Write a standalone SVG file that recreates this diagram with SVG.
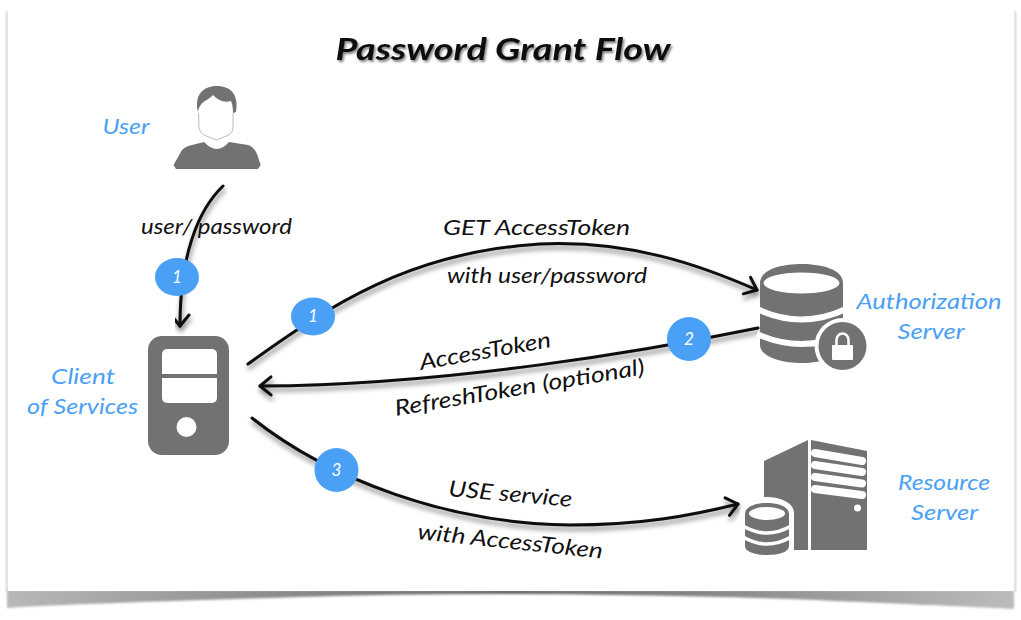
<svg xmlns="http://www.w3.org/2000/svg" width="1021" height="620" viewBox="0 0 1021 620">
<style>
text{font-family:"Lato","Open Sans",sans-serif;font-style:italic}
.lbl{fill:#111;font-size:22px}
.blue{fill:#4aa0f5;font-size:22px;text-anchor:middle}
.num{fill:#fff;font-size:17px;text-anchor:middle}
.ico{fill:#727272}
.gap{fill:none;stroke:#fff}
.conn{fill:none;stroke:#0a0a0a;stroke-width:3;stroke-linecap:round;filter:url(#ls)}
.badge{fill:#4aa0f5}
</style>
<defs>
<linearGradient id="sh" x1="0" y1="0" x2="1" y2="0">
<stop offset="0" stop-color="#b8b8b8"/><stop offset="0.5" stop-color="#666"/><stop offset="1" stop-color="#bcbcbc"/>
</linearGradient>
<filter id="ls" x="-10%" y="-30%" width="120%" height="160%"><feDropShadow dx="1" dy="4" stdDeviation="2.5" flood-color="#000" flood-opacity="0.5"/></filter>
<filter id="ts" x="-5%" y="-30%" width="110%" height="160%"><feDropShadow dx="1.5" dy="2" stdDeviation="1.2" flood-color="#000" flood-opacity="0.5"/></filter>
<filter id="bl" x="-5%" y="-50%" width="110%" height="200%"><feGaussianBlur stdDeviation="1"/></filter>
<filter id="sd" x="-200%" y="-2%" width="500%" height="104%"><feGaussianBlur stdDeviation="0.8"/></filter>
<marker id="ah" markerUnits="userSpaceOnUse" markerWidth="30" markerHeight="30" refX="15" refY="15" orient="auto" overflow="visible">
<path d="M4,6 L15,15 L4,24" fill="none" stroke="#0a0a0a" stroke-width="3" stroke-linecap="round" stroke-linejoin="round"/>
</marker>
</defs>
<rect width="1021" height="620" fill="#fff"/>
<g id="page">
<path d="M7,590 L1014,590 L1014,609 Q1000,608 790,599 Q510,590 300,597 Q60,604 7,608 Z" fill="url(#sh)" filter="url(#bl)"/>
<rect x="6" y="11" width="2" height="581" fill="#cfcfcf" filter="url(#sd)"/>
<rect x="1014" y="11" width="2" height="581" fill="#cfcfcf" filter="url(#sd)"/>
<rect x="8" y="10" width="1006" height="581" fill="#fff"/>
</g>
<text id="title" x="503" y="60" text-anchor="middle" textLength="335" lengthAdjust="spacingAndGlyphs" font-size="31" font-weight="700" fill="#111" filter="url(#ts)">Password Grant Flow</text>

<g id="connectors">
<path class="conn" d="M223,186 C198,210 180,255 180,326" marker-end="url(#ah)"/>
<path class="conn" d="M248,364 C330,305 410,252 540,244 C630,240 700,265 757,290" marker-end="url(#ah)"/>
<path class="conn" d="M758,328 C650,350 450,385 260,386" marker-end="url(#ah)"/>
<path class="conn" d="M252,418 C330,480 450,524 570,525 C640,525 690,516 738,504" marker-end="url(#ah)"/>
</g>

<g id="user-icon">
<path class="ico" d="M173.500,165 L182,150 Q186,146 192,145 L204,142 Q217,156 229,142 L248,145 Q254,147 257,154 L260.700,165 L258,169 L176,169 Z"/>
<path class="ico" d="M198,112 C194,95 203,86 217,86 C231,86 239,95 236,112 L233,113 C233,107 232,103 231,101 C224,103 219,101 213,95 C208,101 199,101 198,113 Z"/>
<path d="M198.500,113 L199,128 Q200,133 204,135 L216.500,140 L229,135 Q233,132 233,128 L233,113" fill="none" stroke="#aaa" stroke-width="0.8"/>
<text class="blue" x="126" y="134" textLength="47" lengthAdjust="spacingAndGlyphs">User</text>
</g>

<g id="client">
<rect class="ico" x="148" y="336" width="81" height="119" rx="14"/>
<rect x="162" y="349" width="55" height="54" rx="5" fill="#fff"/>
<rect class="ico" x="162" y="374" width="55" height="4"/>
<circle cx="186.500" cy="427" r="10" fill="#fff"/>
<text class="blue" x="83" y="384" textLength="64" lengthAdjust="spacingAndGlyphs">Client</text>
<text class="blue" x="82.500" y="414" textLength="111" lengthAdjust="spacingAndGlyphs">of Services</text>
</g>

<g id="auth-server">
<path class="ico" d="M760,283 C760,270 780,264 801.500,264 C823,264 843,270 843,283 L843,345 C843,356 823,363 801.500,363 C780,363 760,356 760,345 Z"/>
<ellipse cx="801.500" cy="283" rx="38" ry="10.500" fill="#fff"/>
<path class="gap" stroke-width="6" d="M757,309 Q801.500,330 846,309"/>
<path class="gap" stroke-width="6" d="M757,334 Q801.500,354 846,334"/>
<circle cx="842.500" cy="346" r="28" fill="#fff"/>
<circle class="ico" cx="842.500" cy="346" r="24"/>
<rect x="832" y="345" width="21" height="15" rx="1" fill="#fff"/>
<path d="M836.500,346 V340 A6,6.500 0 0 1 848.500,340 V346" fill="none" stroke="#fff" stroke-width="2.500"/>
<text class="blue" x="929" y="309" textLength="145" lengthAdjust="spacingAndGlyphs">Authorization</text>
<text class="blue" x="931" y="339" textLength="67" lengthAdjust="spacingAndGlyphs">Server</text>
</g>

<g id="resource-server">
<polygon class="ico" points="764,461 808,440 808,550 764,550"/>
<polygon class="ico" points="811,440 867,451 867,550 811,550"/>
<g stroke="#fff" stroke-width="8" stroke-linecap="round">
<line x1="815" y1="453" x2="862" y2="461"/>
<line x1="815" y1="465" x2="862" y2="472"/>
<line x1="815" y1="477" x2="862" y2="483.500"/>
<line x1="815" y1="489" x2="862" y2="495"/>
</g>
<circle cx="857.500" cy="508" r="3.500" fill="#fff"/>
<path d="M740,513 C740,502 755,497 767,497 C779,497 794,502 794,513 V556 H740 Z" fill="#fff"/>
<path class="ico" d="M745,514 C745,507 755,503 767,503 C779,503 789,507 789,514 V546 C789,552 779,555 767,555 C755,555 745,552 745,546 Z"/>
<ellipse cx="767" cy="513.500" rx="18" ry="6.500" fill="#fff"/>
<path class="gap" stroke-width="3.500" d="M743,526 Q767,540 791,526"/>
<path class="gap" stroke-width="3.500" d="M743,537 Q767,551 791,537"/>
<text class="blue" x="944" y="490" textLength="92" lengthAdjust="spacingAndGlyphs">Resource</text>
<text class="blue" x="944.500" y="520" textLength="67" lengthAdjust="spacingAndGlyphs">Server</text>
</g>

<g id="labels">
<text class="lbl" x="141" y="234" textLength="151" lengthAdjust="spacingAndGlyphs">user/ password</text>
<text class="lbl" x="443" y="235" textLength="187" lengthAdjust="spacingAndGlyphs">GET AccessToken</text>
<text class="lbl" x="447" y="283" textLength="200" lengthAdjust="spacingAndGlyphs">with user/password</text>
<text class="lbl" transform="translate(421,370) rotate(-10)" textLength="133" lengthAdjust="spacingAndGlyphs">AccessToken</text>
<text class="lbl" transform="translate(396,416) rotate(-9.500)" textLength="253" lengthAdjust="spacingAndGlyphs">RefreshToken (optional)</text>
<text class="lbl" transform="translate(448,496) rotate(5)" textLength="124" lengthAdjust="spacingAndGlyphs">USE service</text>
<text class="lbl" transform="translate(417,539) rotate(6)" textLength="186" lengthAdjust="spacingAndGlyphs">with AccessToken</text>
</g>

<g id="badges">
<g id="badge-user"><ellipse class="badge" cx="177" cy="277" rx="22" ry="19"/><text class="num" x="177" y="283">1</text></g>
<g id="badge-get"><ellipse class="badge" cx="313" cy="316.500" rx="22" ry="19"/><text class="num" x="313" y="322">1</text></g>
<g id="badge-token"><ellipse class="badge" cx="689" cy="339" rx="22" ry="22"/><text class="num" x="689" y="345">2</text></g>
<g id="badge-use"><ellipse class="badge" cx="336.500" cy="470" rx="22" ry="22"/><text class="num" x="336.500" y="476">3</text></g>
</g>
</svg>
